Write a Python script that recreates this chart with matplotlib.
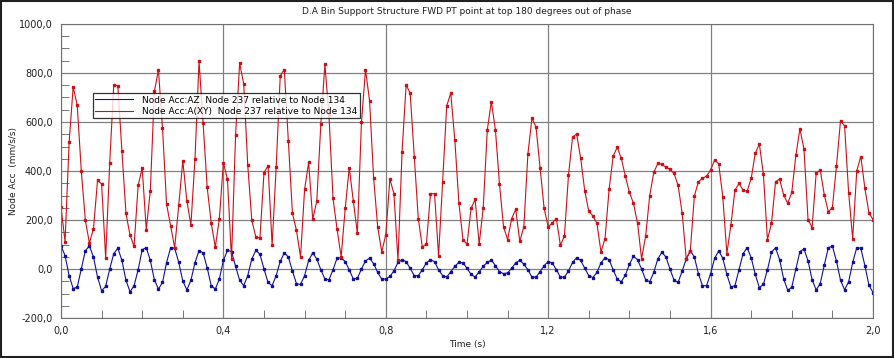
import numpy as np
import matplotlib
matplotlib.use('Agg')
import matplotlib.pyplot as plt
from matplotlib.ticker import MultipleLocator, FuncFormatter
from matplotlib.patches import Rectangle

plt.rcParams['font.family'] = ['DejaVu Sans']

# sampled every 0.01 s from 0 to 2 s
dt = 0.01

# Node Acc:AZ  (mm/s/s)
az = [94, 55, -27, -80, -74, 0, 75, 94, 49, -33, -89, -71, 0, 63, 85, 35, -46, -93, -68, -3,
      79, 87, 35, -44, -82, -55, 26, 87, 85, 27, -49, -85, -46, 26, 75, 66, 5, -68, -82, -41,
      35,
      76, 71, 11, -46, -68, -27, 41, 76, 60, 0, -55, -68, -27, 31, 66, 49, -8, -60, -63, -27,
      35, 66, 41, -3, -41, -44, -3, 44, 46, 30, -3, -41, -38, 0, 33, 44, 22, -14, -41, -41,
      -30, -8, 27, 38, 30, 3, -27, -27, -3, 25, 38, 30, -3, -27, -33, -11, 11, 27, 25, 3,
      -22, -33, -11, 11, 27, 36, 14, -11, -19, -16, 3, 25, 36, 19, -3, -33, -33, -11, 14, 30,
      25, -3, -33, -33, -8, 27, 46, 35, 3, -27, -35, -14, 25, 46, 38, -3, -41, -52, -25, 19,
      52, 38, 0, -44, -52, -14, 41, 68, 49, 0, -46, -55, -8, 41, 74, 49, -19, -68, -68, -19,
      44, 74, 44, -22, -74, -68, -3, 63, 87, 46, -22, -76, -63, -3, 68, 87, 38, -41, -87, -74,
      0, 71, 82, 33, -44, -85, -60, 16, 87, 93, 33, -46, -85, -52, 27, 87, 85, 14, -66, -96]

# Node Acc:A(XY)  (mm/s/s)
axy = [252, 112, 517, 743, 669, 399, 198, 106, 164, 362, 347, 45, 434, 753, 748, 482, 227, 138, 93, 341,
       412, 161, 320, 725, 813, 576, 265, 177, 87, 260, 442, 278, 180, 450, 848, 595, 334, 188, 89, 205,
       434,
       366, 41, 546, 840, 756, 423, 198, 130, 127, 393, 422, 97, 416, 789, 814, 524, 228, 158, 49, 325,
       435, 203, 276, 592, 835, 628, 288, 162, 49, 247, 414, 277, 145, 598, 814, 687, 371, 172, 70, 140,
       367, 308, 35, 476, 751, 718, 459, 206, 90, 102, 306, 308, 55, 356, 666, 718, 527, 270, 120, 101,
       247, 284, 101, 251, 568, 683, 568, 347, 172, 120, 206, 243, 113, 172, 470, 616, 579, 414, 247, 172,
       188, 206, 97, 134, 384, 538, 551, 452, 319, 236, 217, 186, 70, 124, 325, 461, 497, 452, 379, 313,
       268, 188, 42, 134, 299, 394, 431, 427, 415, 407, 390, 341, 227, 41, 74, 298, 356, 370, 379, 404,
       445, 429, 295, 63, 179, 322, 349, 322, 317, 370, 472, 511, 388, 120, 186, 356, 367, 302, 268, 313,
       464, 573, 489, 202, 169, 390, 404, 303, 233, 251, 420, 606, 584, 311, 123, 401, 459, 330, 229, 202]

labels = ['Node Acc:AZ  Node 237 relative to Node 134',
          'Node Acc:A(XY)  Node 237 relative to Node 134']
colors = ['#10109a', '#cc1018']

t = np.arange(len(az)) * dt

fig = plt.figure(figsize=(8.95, 3.58), dpi=100)
ax = fig.add_axes([61/895, 40/358, 812/895, 294/358])

ax.plot(t, az, color=colors[0], lw=0.8, marker='s', ms=1.7, label=labels[0])
ax.plot(t, axy, color=colors[1], lw=0.8, marker='s', ms=1.7, label=labels[1])

ax.set_xlim(0, 2)
ax.set_ylim(-200, 1000)
ax.xaxis.set_major_locator(MultipleLocator(0.4))
ax.xaxis.set_minor_locator(MultipleLocator(0.1))
ax.yaxis.set_major_locator(MultipleLocator(200))
ax.yaxis.set_minor_locator(MultipleLocator(50))
comma = FuncFormatter(lambda v, p: f'{v:.1f}'.replace('.', ','))
ax.xaxis.set_major_formatter(comma)
ax.yaxis.set_major_formatter(comma)

ax.grid(True, which='major', color='#808080', lw=0.9)
ax.set_axisbelow(True)
ax.tick_params(which='both', direction='in', colors='#606060', labelcolor='#202020',
               labelsize=7)
ax.tick_params(which='major', length=0, pad=6)
ax.tick_params(which='minor', length=6)
for s in ax.spines.values():
    s.set_color('#707070')

ax.set_title('D.A Bin Support Structure FWD PT point at top 180 degrees out of phase',
             fontsize=6.5, color='#202020', pad=7)
ax.set_xlabel('Time (s)', fontsize=6.5, color='#202020', labelpad=3)
ax.set_ylabel('Node Acc  (mm/s/s)', fontsize=6.5, color='#202020', labelpad=1)

leg = ax.legend(loc='upper left', bbox_to_anchor=(0.039, 0.766), borderaxespad=0,
                fontsize=6.5, frameon=True, fancybox=False, edgecolor='black',
                handlelength=4.2, handletextpad=1.0, borderpad=0.3, labelspacing=0.25)
leg.get_frame().set_linewidth(0.9)
for h in leg.legend_handles:
    h.set_marker('')

fig.patches.append(Rectangle((0.001, 0.004), 0.997, 0.994, transform=fig.transFigure,
                             fill=False, edgecolor='#202020', lw=1.5))

fig.savefig('out.png', dpi=100)
